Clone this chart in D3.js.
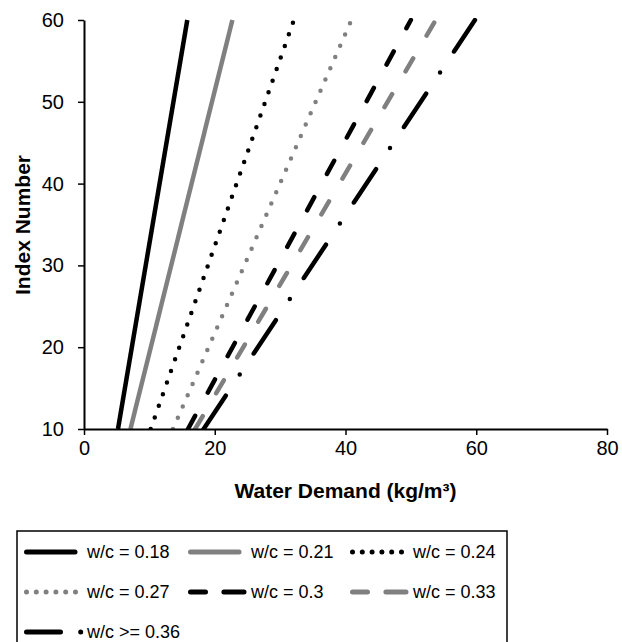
<!DOCTYPE html>
<html>
<head>
<meta charset="utf-8">
<script src="https://cdn.jsdelivr.net/npm/d3@7"></script>
<style>
  html, body { margin: 0; padding: 0; background: #fff; }
  svg { display: block; font-family: Arial, "Liberation Sans", sans-serif; }
</style>
</head>
<body>
<svg id="chart" width="622" height="642"></svg>
<script>
// ---- data ----
const seriesNames = ["w/c = 0.18", "w/c = 0.21", "w/c = 0.24", "w/c = 0.27", "w/c = 0.3", "w/c = 0.33", "w/c >= 0.36"];
const indexValues = [10, 60];                                   // Index Number at the two ends of each line
const demandAtIndex10 = [5.2, 7.1, 10.2, 13.6, 15.9, 17.0, 18.3]; // Water Demand at Index 10
const demandAtIndex60 = [15.8, 22.7, 32.1, 40.9, 50.0, 53.8, 59.8]; // Water Demand at Index 60
const xTicks = [0, 20, 40, 60, 80];
const yTicks = [10, 20, 30, 40, 50, 60];

// ---- styles ----
const colors = ["#000", "#808080", "#000", "#808080", "#000", "#808080", "#000"];
const dashes = [null, null, "0 12.3", "0 12.3", "15 26.5", "15 26.5", "40 25.3 0 25.3"];
const caps = ["butt", "butt", "round", "round", "round", "round", "round"];
const legendDashes = [null, null, "0 9.8", "0 9.8", "15 18.4 100", "15 18.4 100", "34 20.2 0 200"];
const legendLen = [48.5, 48.5, 49.5, 49.5, 53.5, 53.5, 55];

const svg = d3.select("#chart");
const x = d3.scaleLinear().domain([0, 80]).range([84, 607]);
const y = d3.scaleLinear().domain([10, 60]).range([429, 20]);

const series = seriesNames.map((name, i) => ({
  name,
  points: indexValues.map((iv, k) => ({ idx: iv, demand: k === 0 ? demandAtIndex10[i] : demandAtIndex60[i] }))
}));

// clip to plot area
svg.append("defs").append("clipPath").attr("id", "plot")
  .append("rect").attr("x", 84).attr("y", 18).attr("width", 523).attr("height", 411);

const line = d3.line().x(d => x(d.demand)).y(d => y(d.idx));

svg.append("g").attr("clip-path", "url(#plot)")
  .selectAll("path").data(series).join("path")
  .attr("d", d => line(d.points))
  .attr("fill", "none")
  .attr("stroke", (d, i) => colors[i])
  .attr("stroke-width", 4.5)
  .attr("stroke-linecap", (d, i) => caps[i])
  .attr("stroke-dasharray", (d, i) => dashes[i]);

// axes
const xAxis = svg.append("g").attr("transform", "translate(0,429)")
  .call(d3.axisBottom(x).tickValues(xTicks).tickSize(6).tickPadding(6).tickSizeOuter(0));
const yAxis = svg.append("g").attr("transform", "translate(84,0)")
  .call(d3.axisLeft(y).tickValues(yTicks).tickSize(6).tickPadding(14).tickSizeOuter(0));
[xAxis, yAxis].forEach(g => {
  g.select(".domain").attr("stroke", "#000").attr("stroke-width", 2);
  g.selectAll(".tick line").attr("stroke", "#000").attr("stroke-width", 1.5);
  g.selectAll(".tick text").attr("fill", "#000").style("font-size", "20px")
    .style("font-family", "Arial, 'Liberation Sans', sans-serif");
});
xAxis.selectAll(".tick text").attr("dy", "0.71em");

// axis titles
svg.append("text").attr("x", 345.5).attr("y", 498).attr("text-anchor", "middle")
  .style("font-size", "21px").style("font-weight", "bold").text("Water Demand (kg/m³)");
svg.append("text").attr("transform", "translate(30,225) rotate(-90)").attr("text-anchor", "middle")
  .style("font-size", "21px").style("font-weight", "bold").text("Index Number");

// legend
const lg = svg.append("g");
lg.append("rect").attr("x", 17).attr("y", 531).attr("width", 490).attr("height", 140)
  .attr("fill", "#fff").attr("stroke", "#000").attr("stroke-width", 1.5);
const colX = [24, 188, 350];
const rowY = [552, 592, 632];
series.forEach((s, i) => {
  const c = i % 3, r = Math.floor(i / 3);
  const x0 = colX[c];
  const g = lg.append("g");
  g.append("line")
    .attr("x1", x0 + 2.5).attr("x2", x0 + 2.5 + legendLen[i]).attr("y1", rowY[r]).attr("y2", rowY[r])
    .attr("stroke", colors[i]).attr("stroke-width", 5)
    .attr("stroke-linecap", "round")
    .attr("stroke-dasharray", legendDashes[i]);
  g.append("text").attr("x", x0 + 63).attr("y", rowY[r]).attr("dy", "0.35em")
    .style("font-size", "18px").attr("fill", "#000").text(s.name);
});
</script>
</body>
</html>
